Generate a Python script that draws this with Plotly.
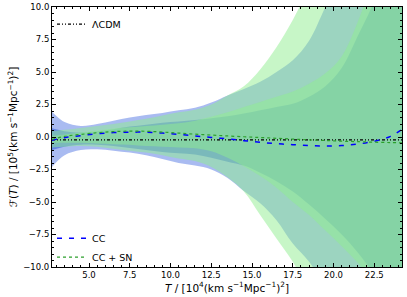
import plotly.graph_objects as go

# ---- data ----
T_grid = [2.73, 3.5, 4.5, 5.5, 6.5, 7.5, 8.5, 9.5, 10.5, 11.5, 12.5, 13.5,
          14.5, 15.5, 16.5, 17.5, 18.5, 19.5, 20.5, 21.5, 22.5, 23.5, 24.2]

cc_2sig_upper = [1.95, 1.15, 0.85, 1.0, 1.25, 1.5, 1.7, 1.85, 2.05, 2.25, 2.65, 3.2,
                 3.7, 4.25, 5.0, 5.9, 7.4, 10.0, 12.5, 15.0, 18.0, 21.0, 23.0]
cc_2sig_lower = [-2.3, -1.4, -1.0, -0.95, -1.05, -1.2, -1.4, -1.7, -2.0, -2.2, -2.5, -3.15,
                 -4.15, -5.1, -6.4, -8.2, -9.6, -11.5, -13.5, -16.0, -18.5, -21.0, -23.0]
cc_1sig_upper = [0.67, 0.45, 0.35, 0.45, 0.6, 0.8, 0.95, 1.1, 1.2, 1.3, 1.45, 1.6,
                 1.8, 2.05, 2.3, 2.55, 3.1, 3.9, 5.3, 7.8, 10.5, 14.5, 17.5]
cc_1sig_lower = [-1.0, -0.75, -0.6, -0.6, -0.7, -0.85, -1.0, -1.15, -1.25, -1.35, -1.6, -1.9,
                 -2.2, -2.75, -3.4, -4.2, -5.2, -6.3, -7.5, -8.9, -10.6, -12.5, -14.0]
ccsn_2sig_upper = [0.45, 0.55, 0.7, 0.85, 1.0, 1.2, 1.4, 1.65, 1.9, 2.1, 2.5, 3.2,
                   3.9, 5.2, 6.9, 9.0, 11.5, 14.0, 17.0, 20.0, 23.0, 26.0, 28.0]
ccsn_2sig_lower = [-0.8, -0.75, -0.7, -0.75, -0.9, -1.05, -1.2, -1.4, -1.65, -1.85, -2.3, -3.1,
                   -4.2, -6.0, -7.8, -9.6, -12.0, -14.5, -17.0, -19.5, -22.0, -24.5, -26.0]
ccsn_1sig_upper = [0.1, 0.2, 0.35, 0.5, 0.65, 0.75, 0.85, 0.95, 1.05, 1.25, 1.55, 1.9,
                   2.3, 2.7, 3.1, 3.5, 4.1, 4.9, 6.2, 8.9, 12.5, 16.0, 19.0]
ccsn_1sig_lower = [-0.45, -0.45, -0.45, -0.5, -0.55, -0.6, -0.7, -0.75, -0.8, -0.87, -1.1, -1.6,
                   -2.25, -3.0, -3.9, -5.0, -6.0, -7.2, -8.4, -9.7, -11.2, -12.8, -14.0]

cc_mean = [-0.25, -0.05, 0.1, 0.25, 0.34, 0.37, 0.37, 0.3, 0.2, 0.08, -0.03, -0.15,
           -0.28, -0.41, -0.51, -0.59, -0.66, -0.69, -0.66, -0.54, -0.33, 0.05, 0.6]
ccsn_mean = [-0.18, 0.05, 0.2, 0.33, 0.42, 0.45, 0.44, 0.38, 0.3, 0.22, 0.15, 0.08,
             0.02, -0.04, -0.1, -0.16, -0.22, -0.27, -0.32, -0.36, -0.4, -0.43, -0.45]
lcdm_T = [2.73, 24.2]
lcdm_F = [-0.22, -0.22]

x_ticks = [5.0, 7.5, 10.0, 12.5, 15.0, 17.5, 20.0, 22.5]
y_ticks = [-10.0, -7.5, -5.0, -2.5, 0.0, 2.5, 5.0, 7.5, 10.0]

FONT = "DejaVu Sans"
fig = go.Figure()

bands = [
    (cc_2sig_upper, cc_2sig_lower, "rgba(65,105,225,0.45)"),
    (cc_1sig_upper, cc_1sig_lower, "rgba(65,105,225,0.65)"),
    (ccsn_2sig_upper, ccsn_2sig_lower, "rgba(144,238,144,0.5)"),
    (ccsn_1sig_upper, ccsn_1sig_lower, "rgba(144,238,144,0.5)"),
]
for up, lo, col in bands:
    fig.add_trace(go.Scatter(x=T_grid, y=up, mode="lines", line=dict(width=0, shape="spline"),
                             showlegend=False, hoverinfo="skip"))
    fig.add_trace(go.Scatter(x=T_grid, y=lo, mode="lines", line=dict(width=0, shape="spline"),
                             fill="tonexty", fillcolor=col, showlegend=False, hoverinfo="skip"))

fig.add_trace(go.Scatter(x=lcdm_T, y=lcdm_F, mode="lines", name="ΛCDM", legend="legend",
                         line=dict(color="black", width=1.2, dash="3px,2px,1px,2px,1px,2px")))
fig.add_trace(go.Scatter(x=T_grid, y=cc_mean, mode="lines", name="CC", legend="legend2",
                         line=dict(color="blue", width=1.5, dash="5px,7px", shape="spline")))
fig.add_trace(go.Scatter(x=T_grid, y=ccsn_mean, mode="lines", name="CC + SN", legend="legend2",
                         line=dict(color="#2ca02c", width=1.2, dash="dot", shape="spline")))

axis_common = dict(showline=True, linecolor="black", linewidth=1, mirror="allticks",
                   ticks="inside", ticklen=4, tickcolor="black", tickwidth=1,
                   showgrid=False, zeroline=False, tickformat=".1f", automargin=False,
                   tickfont=dict(family=FONT, size=8.5, color="black"),
                   minor=dict(ticks="inside", ticklen=2, tickcolor="black", dtick=0.5, showgrid=False))

fig.update_xaxes(range=[2.73, 24.2], tickvals=x_ticks,
                 title=dict(text="<i>T</i> / [10<sup>4</sup>(km s<sup>−1</sup>Mpc<sup>−1</sup>)<sup>2</sup>]",
                            font=dict(family=FONT, size=10.5, color="black"), standoff=2),
                 **axis_common)
fig.update_yaxes(range=[-10, 10], tickvals=y_ticks,
                 title=dict(text="ℱ(<i>T</i>) / [10<sup>5</sup>(km s<sup>−1</sup>Mpc<sup>−1</sup>)<sup>2</sup>]",
                            font=dict(family=FONT, size=10.5, color="black"), standoff=3),
                 **axis_common)

fig.update_layout(
    width=407, height=297,
    margin=dict(l=52, r=5, t=7, b=30, autoexpand=False),
    plot_bgcolor="white", paper_bgcolor="white",
    font=dict(family=FONT, color="black"),
    legend=dict(x=0.0, y=0.99, xanchor="left", yanchor="top", bgcolor="rgba(0,0,0,0)",
                font=dict(family=FONT, size=9.5), itemwidth=30),
    legend2=dict(x=0.0, y=-0.018, xanchor="left", yanchor="bottom", bgcolor="rgba(0,0,0,0)",
                 font=dict(family=FONT, size=9.5), itemwidth=30, tracegroupgap=0),
)

fig.write_html("out.html", config={"displayModeBar": False},
               post_script="document.body.style.margin='0';document.body.style.padding='0';")
